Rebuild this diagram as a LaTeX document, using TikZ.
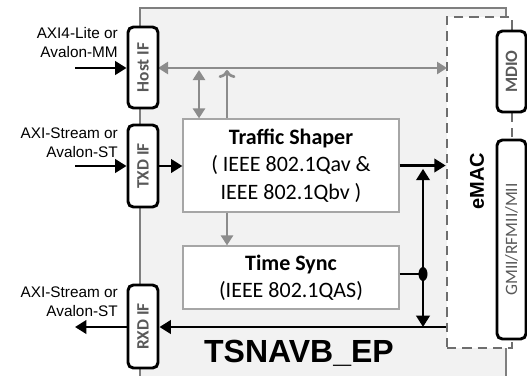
\documentclass[tikz,border=0pt]{standalone}
\usepackage{fontspec}
\setmainfont{Liberation Sans}
\newfontfamily\calibri{Carlito}
\usetikzlibrary{arrows.meta}

\definecolor{tsnfill}{RGB}{242,242,242}
\definecolor{tsnline}{RGB}{127,127,127}
\definecolor{busgray}{RGB}{140,140,140}
\definecolor{labelgray}{RGB}{89,89,89}
\definecolor{dashgray}{RGB}{110,110,110}

\tikzset{
  ifbox/.style={draw=black, line width=2.2pt, rounded corners=4pt, fill=white, inner sep=0pt},
  iflabel/.style={rotate=90, text=labelgray, font=\calibri\bfseries\fontsize{13}{14}\selectfont, inner sep=0pt},
  coreblock/.style={draw=black!35, line width=0.9pt, fill=white, align=center, inner sep=0pt,
    font=\calibri\fontsize{16.5}{20.5}\selectfont},
  blk/.style={line width=2pt, -{Triangle[length=8.5pt,width=10pt]}},
  gry/.style={draw=busgray, line width=2pt, -{Triangle[length=7.5pt,width=9pt]}},
  sidetext/.style={anchor=east, align=right, inner sep=0pt, font=\fontsize{11.5}{14.25}\selectfont}
}

\begin{document}
\begin{tikzpicture}[x=0.75pt,y=0.75pt,yscale=-1,xscale=1]
\useasboundingbox (0,0) rectangle (527,375);
\clip (0,0) rectangle (527,375);

%TSNAVB_EP frame
\draw [draw=tsnline, line width=1.8pt, fill=tsnfill] (140,8) rectangle (506,390) ;
%eMAC frame
\node [draw=dashgray, line width=2pt, dash pattern=on 7pt off 4.5pt, fill=white,
  minimum width=48.75pt, minimum height=248.25pt, inner sep=0pt] (emac) at (479.5,182.5) {};
\node [rotate=90, inner sep=0pt, font=\bfseries\fontsize{15}{16}\selectfont] at (477,181) {eMAC};

%core blocks
\node [coreblock, minimum width=162pt, minimum height=69.75pt] (shaper) at (291,165.5)
  {\textbf{Traffic Shaper}\\( IEEE 802.1Qav \&\\IEEE 802.1Qbv )};
\node [coreblock, minimum width=162pt, minimum height=47.25pt] (tsync) at (291,277.5)
  {\textbf{Time Sync}\\(IEEE 802.1QAS)};

%host bus
\coordinate (busA) at (199,68) ;
\coordinate (busB) at (227,68) ;
\draw [gry, {Triangle[length=7.5pt,width=9pt]}-{Triangle[length=7.5pt,width=9pt]}] (143,68) ++(15,0) -- (447,68) ;
\draw [gry, {Triangle[length=7.5pt,width=9pt]}-{Triangle[length=7.5pt,width=9pt]}] (busA) ++(0,2) -- (busA |- shaper.north) ;
\draw [gry, <-] (busB) ++(0,2) -- (busB |- shaper.north) ;
\draw [gry] (busB |- shaper.south) -- (busB |- tsync.north) ;

%interface boxes
\node [ifbox, minimum width=22.5pt, minimum height=60.75pt] (hostif) at (143,67.5) {};
\node [iflabel] at (hostif) {Host IF};
\node [ifbox, minimum width=22.5pt, minimum height=61.5pt] (txdif) at (143,166) {};
\node [iflabel] at (txdif) {TXD IF};
\node [ifbox, minimum width=22.5pt, minimum height=62.25pt] (rxdif) at (143,326.5) {};
\node [iflabel] at (rxdif) {RXD IF};

\node [ifbox, minimum width=21.75pt, minimum height=60.75pt] (mdio) at (511.5,71.5) {};
\node [iflabel] at (mdio) {MDIO};
\node [ifbox, minimum width=21.75pt, minimum height=149.25pt] (gmii) at (511.5,239.5) {};
\node [iflabel, font=\calibri\fontsize{13}{14}\selectfont] at (gmii) {GMII/RFMII/MII};

%data path
\coordinate (hostin) at (75,68) ;
\coordinate (txdin) at (75,166) ;
\coordinate (rxdout) at (75,327) ;
\coordinate (junc) at (423,274) ;
\draw [blk] (hostin) -- (hostin -| hostif.west) ;
\draw [blk] (txdin) -- (txdin -| txdif.west) ;
\draw [blk] (txdif.east) -- (txdif.east -| shaper.west) ;
\draw [blk] (shaper.east) -- (shaper.east -| emac.west) ;
\draw [blk] (rxdout -| emac.west) -- (rxdout -| rxdif.east) ;
\draw [blk] (rxdout -| rxdif.west) -- (rxdout) ;
\draw [line width=2pt] (junc -| tsync.east) -- (junc) ;
\draw [blk, shorten >=2.5pt] (junc) -- (junc |- shaper.east) ;
\draw [blk] (junc) -- (junc |- rxdout) ;
\fill (junc) ellipse (4.5 and 7) ;

% Text Node
\node [sidetext] at (118,42.5) {AXI4-Lite or\\Avalon-MM};
% Text Node
\node [sidetext] at (118,142.5) {AXI-Stream or\\Avalon-ST};
% Text Node
\node [sidetext] at (118,301.5) {AXI-Stream or\\Avalon-ST};
% Text Node
\node [inner sep=0pt, font=\bfseries\fontsize{24}{27}\selectfont] at (299,353) {TSNAVB\_EP};
\end{tikzpicture}
\end{document}
